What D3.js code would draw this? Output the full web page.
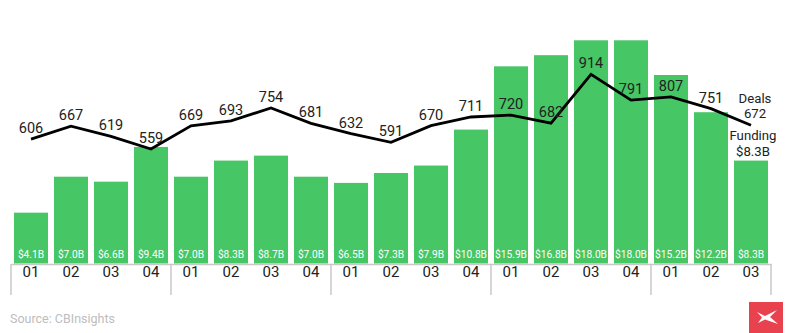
<!DOCTYPE html>
<html>
<head>
<meta charset="utf-8">
<script src="https://cdn.jsdelivr.net/npm/d3@7"></script>
<style>
  html, body { margin: 0; padding: 0; background: #fff; }
  svg { display: block; font-family: Roboto, "Noto Sans", sans-serif; }
</style>
</head>
<body>
<svg id="chart" width="786" height="333"></svg>
<script>
// Quarterly funding ($B) and deal counts, grouped by year (4 quarters per group)
const quarters = ["01", "02", "03", "04", "01", "02", "03", "04", "01", "02", "03", "04",
                  "01", "02", "03", "04", "01", "02", "03"];
const funding = [4.1, 7.0, 6.6, 9.4, 7.0, 8.3, 8.7, 7.0, 6.5, 7.3, 7.9, 10.8,
                 15.9, 16.8, 18.0, 18.0, 15.2, 12.2, 8.3];
const deals = [606, 667, 619, 559, 669, 693, 754, 681, 632, 591, 670, 711,
               720, 682, 914, 791, 807, 751, 672];
const quartersPerYear = 4;
const sourceNote = "Source: CBInsights";

const svg = d3.select("#chart");

const idx = d3.range(quarters.length);
const x = d3.scaleBand().domain(idx).range([11, 771]).paddingInner(0.15).paddingOuter(0.075);
const yBar = d3.scaleLinear().domain([0, 20]).range([263.5, 15.5]);
const yDeal = d3.scaleLinear().domain([0, 1000]).range([266.6, 56.2]);
const cx = i => x(i) + x.bandwidth() / 2;
const fmtB = v => "$" + d3.format(".1f")(v) + "B";
const last = quarters.length - 1;

// Funding bars
svg.append("g").selectAll("rect").data(funding).join("rect")
  .attr("x", (d, i) => x(i))
  .attr("y", d => yBar(d))
  .attr("width", x.bandwidth())
  .attr("height", d => yBar(0) - yBar(d))
  .attr("fill", "#46c664");

// Value labels inside the bars
svg.append("g").selectAll("text").data(funding).join("text")
  .attr("x", (d, i) => cx(i))
  .attr("y", 257.6)
  .attr("text-anchor", "middle")
  .attr("fill", "#fff")
  .attr("font-size", 10.2)
  .text(d => fmtB(d));

// Quarter axis
const axis = svg.append("g")
  .attr("transform", "translate(0,264)")
  .call(d3.axisBottom(x).tickSize(0).tickSizeOuter(0).tickPadding(2.5).tickFormat(i => quarters[i]));
axis.select(".domain").attr("stroke", "#c8c8c8").attr("stroke-width", 1.5);
axis.selectAll(".tick text").attr("font-size", 15).attr("fill", "#222")
  .attr("font-family", "Roboto, sans-serif");

// Year separators
const gap = x.step() - x.bandwidth();
const seps = idx.filter(i => i % quartersPerYear === 0).map(i => x(i) - gap / 2)
  .concat([x(last) + x.bandwidth() + gap / 2]);
svg.append("g").selectAll("line").data(seps).join("line")
  .attr("x1", d => d).attr("x2", d => d)
  .attr("y1", 264).attr("y2", 295)
  .attr("stroke", "#c8c8c8").attr("stroke-width", 1.5);

// Deals line
svg.append("path")
  .datum(deals)
  .attr("fill", "none")
  .attr("stroke", "#000")
  .attr("stroke-width", 2.8)
  .attr("d", d3.line().x((d, i) => cx(i)).y(d => yDeal(d)));

// Deal count labels
svg.append("g").selectAll("text").data(deals.slice(0, last)).join("text")
  .attr("x", (d, i) => cx(i))
  .attr("y", d => yDeal(d) - 6)
  .attr("text-anchor", "middle")
  .attr("fill", "#222")
  .attr("font-size", 14.5)
  .text(d => d);

// End-of-series annotations, two lines each
function stacked(xPos, yTop, lines) {
  svg.append("g").selectAll("text").data(lines).join("text")
    .attr("x", xPos)
    .attr("y", (d, i) => yTop + i * 15.5)
    .attr("text-anchor", "middle")
    .attr("fill", "#222")
    .attr("font-size", 13.2)
    .text(d => d);
}
stacked(cx(last) + 4, yDeal(deals[last]) - 22.5, ["Deals", deals[last]]);
stacked(cx(last) + 2, yBar(funding[last]) - 20.5, ["Funding", fmtB(funding[last])]);

// Source note
svg.append("text")
  .attr("x", 10).attr("y", 322.8)
  .attr("fill", "#bdbdbd")
  .attr("font-size", 12.5)
  .text(sourceNote);

// Brand mark
const logo = svg.append("g").attr("transform", "translate(749,302)");
logo.append("rect").attr("width", 34).attr("height", 31).attr("fill", "#e8424f");
logo.append("path")
  .attr("fill", "#fff")
  .attr("d", "M8,10 L16,14 L28,8 L21,15 L29,22 L16,17.5 L9,21 L13,15.5 Z");
</script>
</body>
</html>
